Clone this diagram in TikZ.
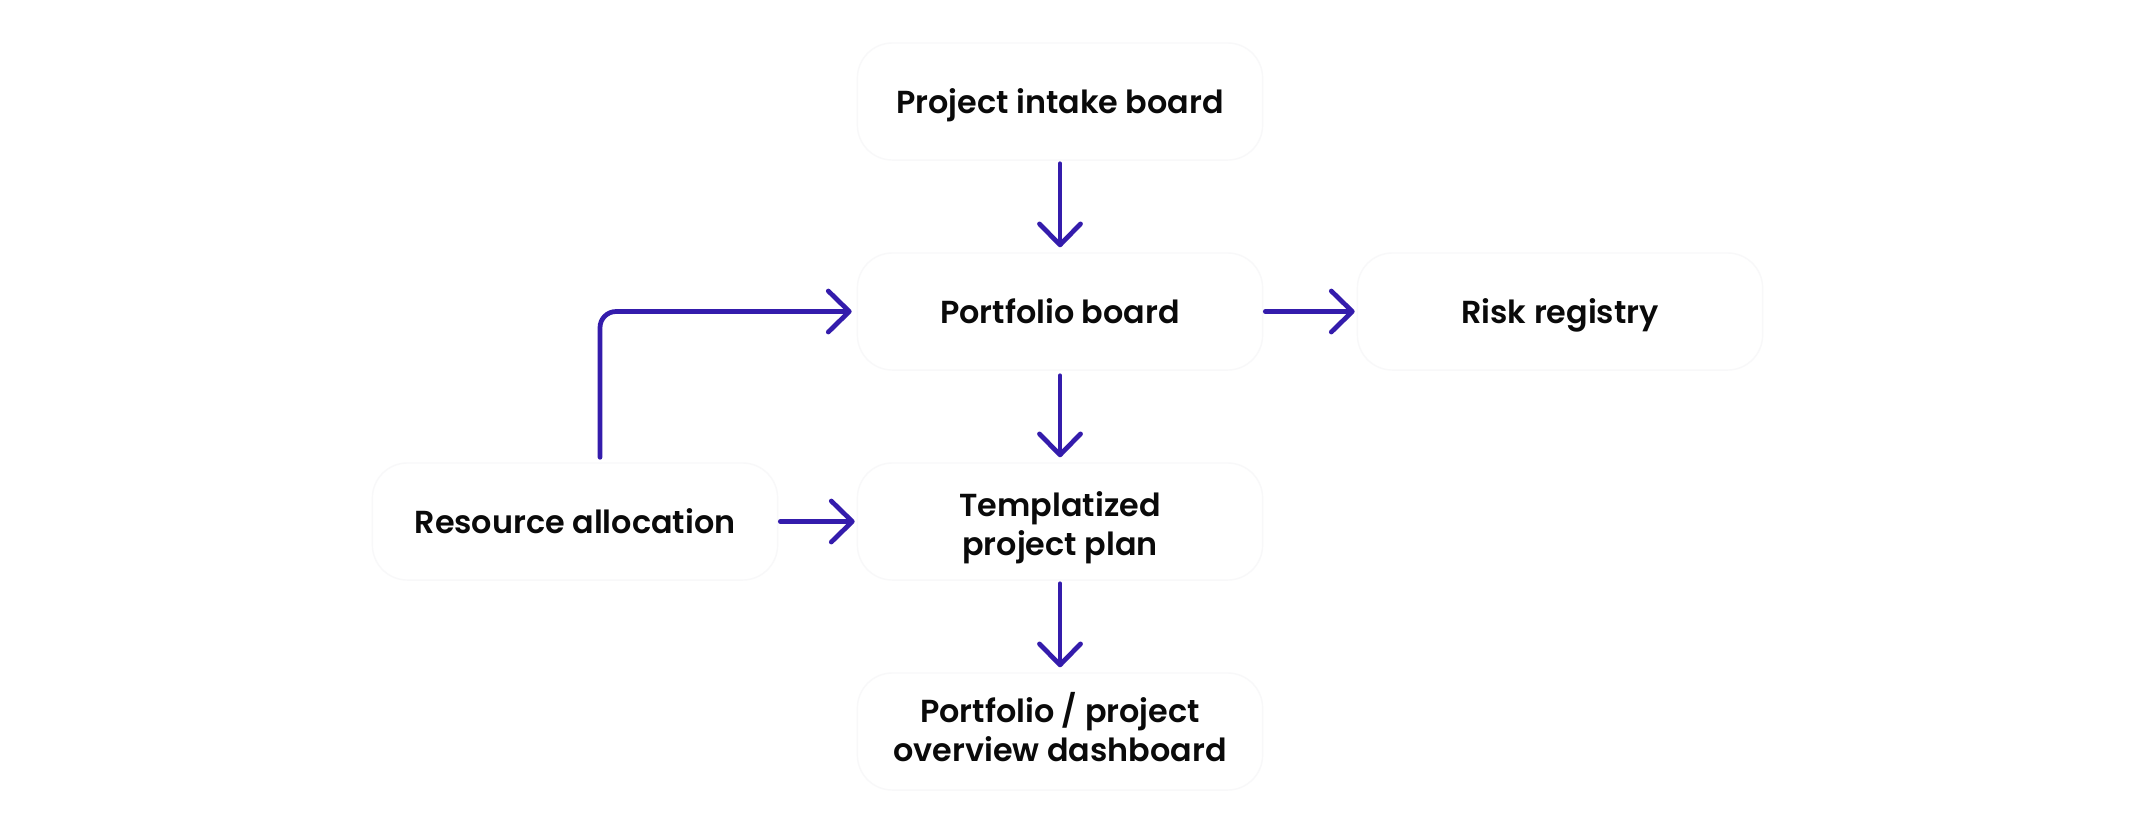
\documentclass[tikz,border=0pt]{standalone}
\usepackage{fontspec}
\setmainfont{Poppins SemiBold}
\usepackage{tikz}
\usetikzlibrary{arrows.meta}
\definecolor{pmoInk}{HTML}{0A0A0A}
\definecolor{pmoFlow}{HTML}{341CAC}
\definecolor{pmoEdge}{HTML}{F8F8F9}
\tikzset{
  % Stage boxes are white cards with an almost invisible rim; every
  % connector is the same open chevron in the accent colour.
  pmo/base/.style={
    font=\fontsize{9.05pt}{11.3pt}\selectfont,
    text=pmoInk
  },
  pmo/stage/.style={
    draw=pmoEdge,
    fill=white,
    rounded corners=.35cm,
    line width=.4pt,
    minimum width=4.05cm,
    minimum height=1.17cm,
    inner sep=1pt,
    align=center,
    text=pmoInk,
    execute at begin node={\rule{0pt}{.33cm}},
    execute at end node={\rule[-.09cm]{0pt}{0pt}}
  },
  pmo/link/.style={
    -{Straight Barb[length=2.1mm,width=4.1mm,line cap=round,round]},
    draw=pmoFlow,
    line width=1.35pt,
    line cap=round
  }
}
\begin{document}
\begin{tikzpicture}[pmo/base,x=.01cm,y=-.01cm]
  \path[use as bounding box,fill=white] (0,0) rectangle (2137,835);
  \node[pmo/stage] (intake) at (1060,101.5) {Project intake board};
  \node[pmo/stage] (portfolio) at (1060,311.5) {Portfolio board};
  \node[pmo/stage] (template) at (1060,521.5)
    {\rule{0pt}{.38cm}Templatized\\project plan};
  \node[pmo/stage] (dashboard) at (1060,731.5) {Portfolio / project\\overview dashboard};
  \node[pmo/stage] (risk) at (1560,311.5) {Risk registry};
  \node[pmo/stage] (resource) at (575,521.5) {Resource allocation};

  \draw[pmo/link,shorten <=.03cm,shorten >=.05cm] (intake.south)--(portfolio.north);
  \draw[pmo/link,shorten <=.05cm,shorten >=.05cm] (portfolio.south)--(template.north);
  \draw[pmo/link,shorten <=.03cm,shorten >=.05cm] (template.south)--(dashboard.north);
  \draw[pmo/link,shorten <=.02cm,shorten >=.02cm] (portfolio.east)--(risk.west);
  \draw[pmo/link,shorten <=.02cm,shorten >=.02cm] (resource.east)--(template.west);
  % resources also feed the portfolio board, bent round above the card
  \draw[pmo/link,rounded corners=.16cm,shorten <=.05cm,shorten >=.05cm]
    ([xshift=.25cm]resource.north) |- (portfolio.west);
\end{tikzpicture}
\end{document}
